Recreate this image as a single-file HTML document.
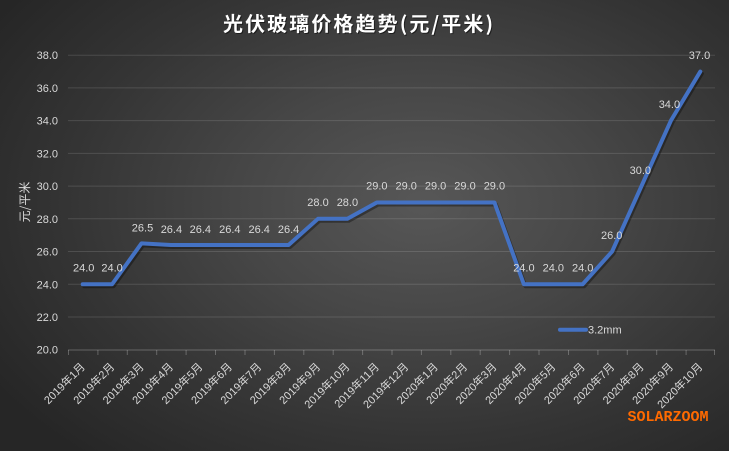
<!DOCTYPE html>
<html><head><meta charset="utf-8">
<style>
html,body{margin:0;padding:0;}
body{width:729px;height:451px;overflow:hidden;}
#c{position:relative;width:729px;height:451px;
background:radial-gradient(ellipse 70% 75% at 58% 45%, #575757 0%, #474747 35%, #343434 70%, #262626 100%);}
svg{position:absolute;left:0;top:0;}
text{font-family:"Liberation Sans","Noto Sans CJK SC",sans-serif;}
</style></head>
<body><div id="c">
<svg width="729" height="451" viewBox="0 0 729 451" xmlns="http://www.w3.org/2000/svg">
<!-- title -->
<text x="224" y="32" font-size="20" font-weight="bold" fill="#000" opacity="0.5" textLength="270" lengthAdjust="spacing" style="font-family:'Noto Sans CJK SC',sans-serif">光伏玻璃价格趋势(元/平米)</text>
<text x="223" y="31" font-size="20" font-weight="bold" fill="#ffffff" textLength="270" lengthAdjust="spacing" style="font-family:'Noto Sans CJK SC',sans-serif">光伏玻璃价格趋势(元/平米)</text>

<!-- gridlines -->
<g stroke="rgba(255,255,255,0.13)" stroke-width="1">
<line x1="68" x2="715" y1="55.2" y2="55.2"/>
<line x1="68" x2="715" y1="87.9" y2="87.9"/>
<line x1="68" x2="715" y1="120.6" y2="120.6"/>
<line x1="68" x2="715" y1="153.4" y2="153.4"/>
<line x1="68" x2="715" y1="186.1" y2="186.1"/>
<line x1="68" x2="715" y1="218.8" y2="218.8"/>
<line x1="68" x2="715" y1="251.5" y2="251.5"/>
<line x1="68" x2="715" y1="284.3" y2="284.3"/>
<line x1="68" x2="715" y1="317.0" y2="317.0"/>
</g>
<!-- axis -->
<g stroke="rgba(255,255,255,0.25)" stroke-width="1">
<line x1="68" x2="715" y1="350" y2="350"/>
<path d="M68.5 350v5M97.9 350v5M127.3 350v5M156.7 350v5M186.1 350v5M215.5 350v5M245 350v5M274.4 350v5M303.8 350v5M333.2 350v5M362.6 350v5M392 350v5M421.4 350v5M450.8 350v5M480.2 350v5M509.6 350v5M539 350v5M568.5 350v5M597.9 350v5M627.3 350v5M656.7 350v5M686.1 350v5M714.5 350v5"/>
</g>

<!-- y labels -->
<g font-size="11" fill="#d9d9d9" text-anchor="end">
<text x="58" y="59.2">38.0</text>
<text x="58" y="91.9">36.0</text>
<text x="58" y="124.6">34.0</text>
<text x="58" y="157.4">32.0</text>
<text x="58" y="190.1">30.0</text>
<text x="58" y="222.8">28.0</text>
<text x="58" y="255.5">26.0</text>
<text x="58" y="288.3">24.0</text>
<text x="58" y="321.0">22.0</text>
<text x="58" y="353.7">20.0</text>
</g>
<!-- y title -->
<text transform="translate(29,202) rotate(-90)" font-size="12" fill="#d9d9d9" text-anchor="middle" style="font-family:'Noto Sans CJK SC',sans-serif">元/平米</text>

<!-- series shadow -->
<polyline fill="none" stroke="rgba(0,0,0,0.35)" stroke-width="4" stroke-linejoin="round" stroke-linecap="round" transform="translate(1.5,2)"
points="82.7,284.26 112.11,284.26 141.52,243.35 170.93,244.99 200.34,244.99 229.75,244.99 259.16,244.99 288.57,244.99 317.98,218.81 347.39,218.81 376.8,202.45 406.21,202.45 435.62,202.45 465.03,202.45 494.44,202.45 523.85,284.26 553.26,284.26 582.67,284.26 612.08,251.53 641.49,186.09 670.9,120.65 700.31,71.56"/>
<polyline fill="none" stroke="#4472c4" stroke-width="4" stroke-linejoin="round" stroke-linecap="round"
points="82.7,284.26 112.11,284.26 141.52,243.35 170.93,244.99 200.34,244.99 229.75,244.99 259.16,244.99 288.57,244.99 317.98,218.81 347.39,218.81 376.8,202.45 406.21,202.45 435.62,202.45 465.03,202.45 494.44,202.45 523.85,284.26 553.26,284.26 582.67,284.26 612.08,251.53 641.49,186.09 670.9,120.65 700.31,71.56"/>

<!-- data labels -->
<g font-size="11" fill="#d9d9d9" text-anchor="middle">
<text x="83.7" y="271.3">24.0</text>
<text x="112.1" y="271.3">24.0</text>
<text x="142.5" y="231.4">26.5</text>
<text x="171.4" y="233">26.4</text>
<text x="200.3" y="233">26.4</text>
<text x="229.8" y="233">26.4</text>
<text x="259.2" y="233">26.4</text>
<text x="288.6" y="233">26.4</text>
<text x="318" y="206">28.0</text>
<text x="347.4" y="206">28.0</text>
<text x="376.8" y="189.7">29.0</text>
<text x="406.2" y="189.7">29.0</text>
<text x="435.6" y="189.7">29.0</text>
<text x="465" y="189.7">29.0</text>
<text x="494.4" y="189.7">29.0</text>
<text x="523.9" y="271.3">24.0</text>
<text x="553.3" y="271.3">24.0</text>
<text x="582.7" y="271.3">24.0</text>
<text x="611.7" y="239">26.0</text>
<text x="640.3" y="174">30.0</text>
<text x="669.4" y="108">34.0</text>
<text x="699.5" y="59">37.0</text>
</g>

<!-- x labels -->
<g font-size="11" fill="#d9d9d9" text-anchor="end">
<text transform="translate(85.7,367.5) rotate(-45)">2019年1月</text>
<text transform="translate(115.1,367.5) rotate(-45)">2019年2月</text>
<text transform="translate(144.5,367.5) rotate(-45)">2019年3月</text>
<text transform="translate(173.9,367.5) rotate(-45)">2019年4月</text>
<text transform="translate(203.3,367.5) rotate(-45)">2019年5月</text>
<text transform="translate(232.8,367.5) rotate(-45)">2019年6月</text>
<text transform="translate(262.2,367.5) rotate(-45)">2019年7月</text>
<text transform="translate(291.6,367.5) rotate(-45)">2019年8月</text>
<text transform="translate(321,367.5) rotate(-45)">2019年9月</text>
<text transform="translate(350.4,367.5) rotate(-45)">2019年10月</text>
<text transform="translate(379.8,367.5) rotate(-45)">2019年11月</text>
<text transform="translate(409.2,367.5) rotate(-45)">2019年12月</text>
<text transform="translate(438.6,367.5) rotate(-45)">2020年1月</text>
<text transform="translate(468,367.5) rotate(-45)">2020年2月</text>
<text transform="translate(497.4,367.5) rotate(-45)">2020年3月</text>
<text transform="translate(526.9,367.5) rotate(-45)">2020年4月</text>
<text transform="translate(556.3,367.5) rotate(-45)">2020年5月</text>
<text transform="translate(585.7,367.5) rotate(-45)">2020年6月</text>
<text transform="translate(615.1,367.5) rotate(-45)">2020年7月</text>
<text transform="translate(644.5,367.5) rotate(-45)">2020年8月</text>
<text transform="translate(673.9,367.5) rotate(-45)">2020年9月</text>
<text transform="translate(703.3,367.5) rotate(-45)">2020年10月</text>
</g>

<!-- legend -->
<line x1="560" x2="586" y1="329.7" y2="329.7" stroke="#4472c4" stroke-width="4" stroke-linecap="round"/>
<text x="588" y="333.5" font-size="11" fill="#d9d9d9">3.2mm</text>

<!-- watermark -->
<text x="627.5" y="421" font-size="15" font-weight="bold" fill="#ff6a00" style="font-family:'Liberation Mono',monospace">SOLARZOOM</text>
</svg>
</div></body></html>
